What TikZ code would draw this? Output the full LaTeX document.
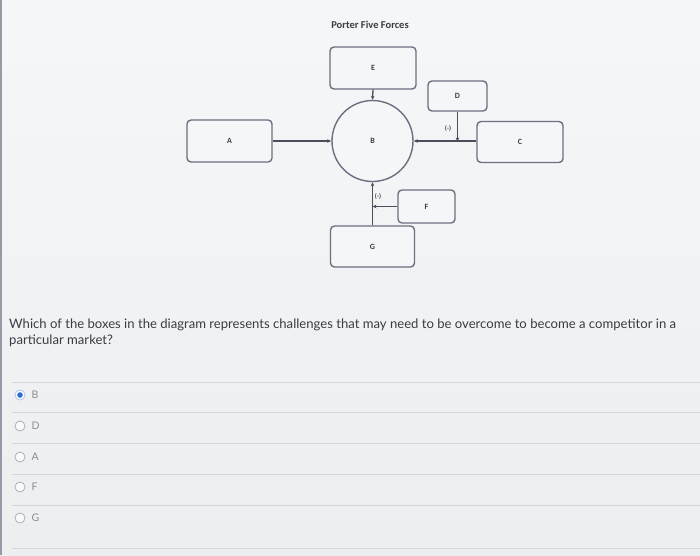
\documentclass[tikz,border=0pt]{standalone}
\usepackage{fontspec}
\setmainfont{Lato}
\newfontfamily\diafont{Carlito}
\usetikzlibrary{arrows.meta}
\definecolor{bg}{HTML}{ECEEF0}
\definecolor{boxc}{HTML}{6B6F80}
\definecolor{linec}{HTML}{4A4D5A}
\definecolor{sepc}{HTML}{D4D6DA}
\definecolor{optc}{HTML}{8A8D92}
\definecolor{qc}{HTML}{3A3C42}
\definecolor{radioblue}{HTML}{2A6FD6}
\tikzset{
  fbox/.style={draw=boxc, line width=1.4pt, rounded corners=4pt, fill=white!50!bg, font=\diafont\bfseries\fontsize{8}{9}\selectfont, text=qc},
  fcirc/.style={draw=boxc, line width=1.4pt, circle, minimum size=81pt, inner sep=0pt, fill=white!50!bg, font=\diafont\bfseries\fontsize{8}{9}\selectfont, text=qc},
  conn/.style={draw=linec, line width=1.3pt, -{Stealth[length=4pt,width=3.5pt]}},
  minus/.style={font=\diafont\bfseries\fontsize{6.5}{7}\selectfont, text=qc},
  sep/.style={draw=sepc, line width=0.9pt},
  radio/.style={circle, draw=optc!70, line width=0.8pt, minimum size=10pt, inner sep=0pt, fill=white!70!bg},
  opt/.style={font=\fontsize{10.5}{12}\selectfont, text=optc, anchor=west}
}
\begin{document}
\begin{tikzpicture}[x=1pt,y=-1pt]
\useasboundingbox (0,0) rectangle (700,555);
\shade[top color=white!50!bg, bottom color=bg] (0,0) rectangle (700,555);
\draw[boxc!70, line width=2.5pt] (1,0) -- (1,555);
% title
\node[font=\diafont\bfseries\fontsize{10.5}{12}\selectfont, text=qc] (title) at (370,25) {Porter Five Forces};
% boxes
\node[fbox, minimum width=86pt, minimum height=42pt] (E) at (373,68) {E};
\node[fbox, minimum width=59pt, minimum height=30pt] (D) at (457.5,96) {D};
\node[fbox, minimum width=85pt, minimum height=42pt] (A) at (229.5,141) {A};
\node[fcirc] (B) at (372.5,141) {B};
\node[fbox, minimum width=86pt, minimum height=41pt] (C) at (520,142) {C};
\node[fbox, minimum width=57pt, minimum height=33pt] (F) at (426.5,206.5) {F};
\node[fbox, minimum width=84pt, minimum height=41pt] (G) at (372.5,246.5) {G};
\coordinate (dj) at (457.5,141.5);
\coordinate (fj) at (372.5,206.5);
% connectors
\draw[conn] (A.east) -- (B.west);
\draw[conn] (E.south) -- (B.north);
\draw[conn] (C.west |- B.east) -- (B.east);
\draw[conn] (D.south) -- (dj);
\draw[conn] (G.north) -- (B.south);
\draw[conn] (F.west) -- (fj);
\node[minus] (m1) at (448,129) {(-)};
\node[minus] (m2) at (378,197) {(-)};
% question
\node[anchor=west, font=\fontsize{13.1}{15}\selectfont, text=qc, inner sep=0pt] (q1) at (9,325) {Which of the boxes in the diagram represents challenges that may need to be overcome to become a competitor in a};
\node[anchor=west, font=\fontsize{13.1}{15}\selectfont, text=qc, inner sep=0pt] (q2) at (9,341) {particular market?};
% separators
\draw[sep] (12,382) -- (700,382);
\draw[sep] (12,412) -- (700,412);
\draw[sep] (12,443) -- (700,443);
\draw[sep] (12,474) -- (700,474);
\draw[sep] (12,505) -- (700,505);
\draw[sep] (12,548) -- (700,548);
% options
\node[radio, draw=radioblue!40, fill=white] (r1) at (20,395) {};
\fill[radioblue] (r1.center) circle (2.8pt);
\node[opt] (o1) at (28,395) {B};
\node[radio] (r2) at (20,426) {};
\node[opt] (o2) at (28,426) {D};
\node[radio] (r3) at (20,457) {};
\node[opt] (o3) at (28,457) {A};
\node[radio] (r4) at (20,487) {};
\node[opt] (o4) at (28,487) {F};
\node[radio] (r5) at (20,518) {};
\node[opt] (o5) at (28,518) {G};
\end{tikzpicture}
\end{document}
